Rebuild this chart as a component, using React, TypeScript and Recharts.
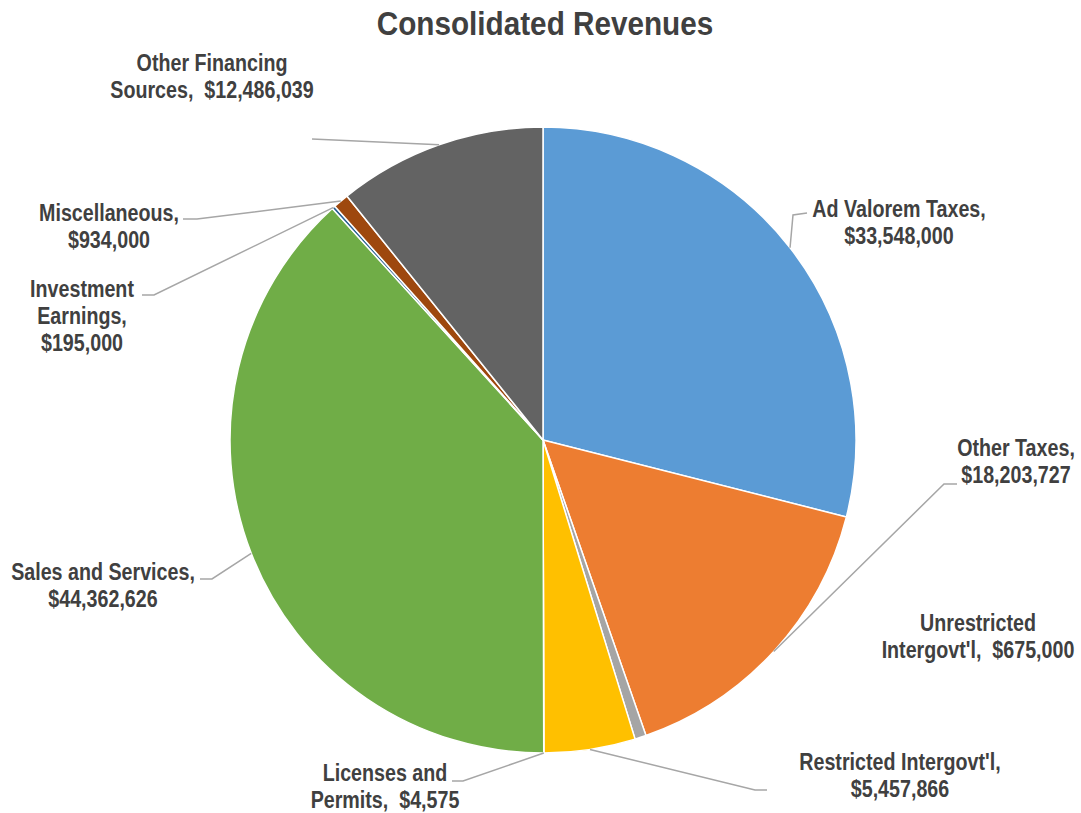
import { PieChart, Pie, Cell } from "recharts";

const categories = [
  "Ad Valorem Taxes",
  "Other Taxes",
  "Unrestricted Intergovt'l",
  "Restricted Intergovt'l",
  "Licenses and Permits",
  "Sales and Services",
  "Investment Earnings",
  "Miscellaneous",
  "Other Financing Sources",
];

const revenues = [33548000, 18203727, 675000, 5457866, 4575, 44362626, 195000, 934000, 12486039];

const sliceColors = ["#5B9BD5", "#ED7D31", "#A5A5A5", "#FFC000", "#4472C4", "#70AD47", "#255E91", "#9E480E", "#636363"];

// label text lines, {v} gets the formatted value
const labelLines = [
  ["Ad Valorem Taxes,", "{v}"],
  ["Other Taxes,", "{v}"],
  ["Unrestricted", "Intergovt'l,  {v}"],
  ["Restricted Intergovt'l,", "{v}"],
  ["Licenses and", "Permits,  {v}"],
  ["Sales and Services,", "{v}"],
  ["Investment", "Earnings,", "{v}"],
  ["Miscellaneous,", "{v}"],
  ["Other Financing", "Sources,  {v}"],
];

const data = categories.map((name, i) => ({ name, value: revenues[i] }));

// where each label box sits (centre x, first line middle y) and the leader elbow
const labelSpots: Record<string, { x: number; y: number; leader?: number[][] }> = {
  "Ad Valorem Taxes": { x: 899, y: 209, leader: [[807, 213], [793, 215]] },
  "Other Taxes": { x: 1016, y: 448, leader: [[957, 484], [944, 484]] },
  "Unrestricted Intergovt'l": { x: 978, y: 623 },
  "Restricted Intergovt'l": { x: 900, y: 762, leader: [[767, 790], [755, 790]] },
  "Licenses and Permits": { x: 385, y: 773, leader: [[452, 781], [463, 781]] },
  "Sales and Services": { x: 103, y: 572, leader: [[200, 579], [212, 579]] },
  "Investment Earnings": { x: 82, y: 289, leader: [[142, 295], [154, 295]] },
  Miscellaneous: { x: 109, y: 213, leader: [[183, 219], [197, 219]] },
  "Other Financing Sources": { x: 212, y: 63, leader: [[312, 139]] },
};

const FONT = "'Liberation Sans Narrow', 'Arial Narrow', 'Liberation Sans', Arial, sans-serif";
const NARROW = 0.82;
const RADIAN = Math.PI / 180;
const fmt = (v: number) => "$" + v.toLocaleString("en-US");

const renderLabel = (props: any) => {
  const { cx, cy, midAngle, outerRadius, name, value, index } = props;
  const spot = labelSpots[name];
  if (!spot) return null;
  const ex = cx + outerRadius * Math.cos(-midAngle * RADIAN);
  const ey = cy + outerRadius * Math.sin(-midAngle * RADIAN);
  const lines = labelLines[index].map((l) => l.replace("{v}", fmt(value)));
  let path = "";
  if (spot.leader) {
    path = spot.leader.map((p, i) => `${i === 0 ? "M" : "L"}${p[0]},${p[1]}`).join(" ") + ` L${ex},${ey}`;
  }
  return (
    <g key={`lbl-${index}`}>
      {path && <path d={path} stroke="#A6A6A6" strokeWidth={1.5} fill="none" />}
      <text
        transform={`translate(${spot.x},${spot.y}) scale(${NARROW},1)`}
        x={0}
        y={0}
        textAnchor="middle"
        fill="#404040"
        fontFamily={FONT}
        fontWeight="bold"
        fontSize={24}
        style={{ whiteSpace: "pre" }}
      >
        {lines.map((l, i) => (
          <tspan key={i} x={0} dy={i === 0 ? 8 : 27}>
            {l}
          </tspan>
        ))}
      </text>
    </g>
  );
};

export default function App() {
  return (
    <div style={{ position: "absolute", left: 0, top: 0, width: 1081, height: 813, background: "#fff" }}>
      <PieChart width={1081} height={813} margin={{ top: 0, right: 0, bottom: 0, left: 0 }}>
        <text
          transform="translate(545,35) scale(0.9,1)"
          x={0}
          y={0}
          textAnchor="middle"
          fill="#404040"
          fontFamily={FONT}
          fontWeight="bold"
          fontSize={33}
        >
          Consolidated Revenues
        </text>
        <Pie
          data={data}
          dataKey="value"
          nameKey="name"
          cx={543}
          cy={440}
          outerRadius={313}
          startAngle={90}
          endAngle={-270}
          stroke="#FFFFFF"
          strokeWidth={1.5}
          labelLine={false}
          label={renderLabel}
          isAnimationActive={false}
        >
          {data.map((d, i) => (
            <Cell key={d.name} fill={sliceColors[i]} />
          ))}
        </Pie>
      </PieChart>
    </div>
  );
}
